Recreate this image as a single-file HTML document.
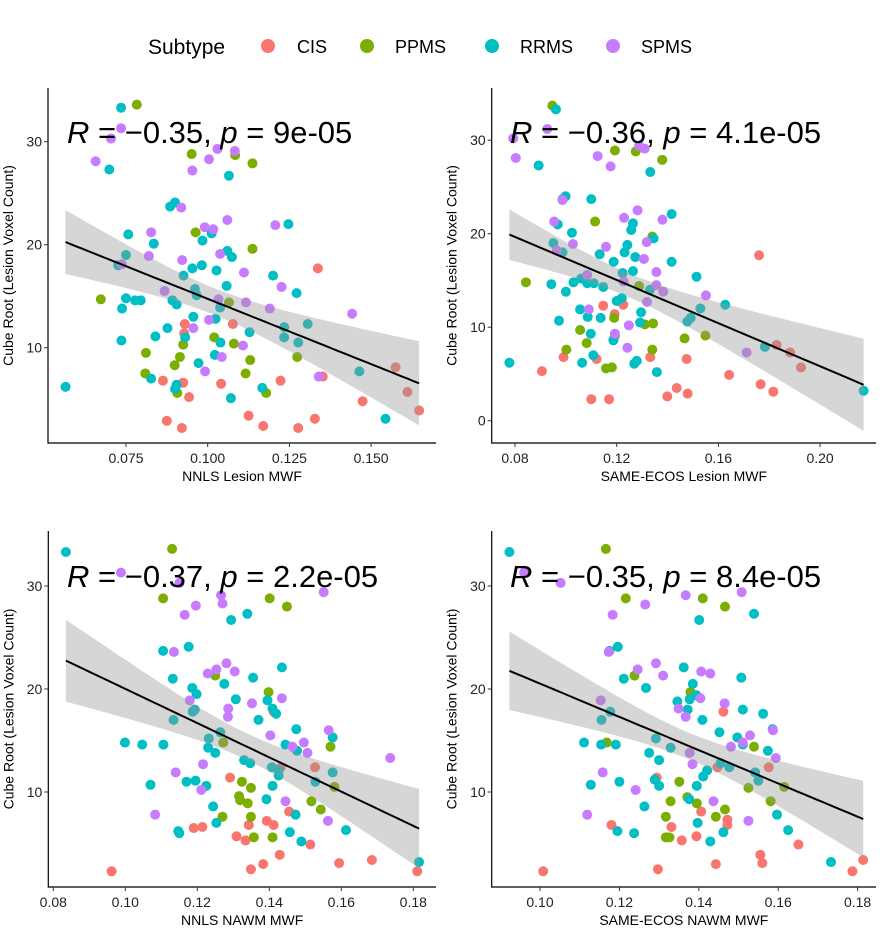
<!DOCTYPE html>
<html><head><meta charset="utf-8"><style>
body{margin:0;background:#fff;}
svg{display:block;font-family:"Liberation Sans",sans-serif;}
</style></head><body>
<svg id="chart" width="887" height="934" viewBox="0 0 887 934" xmlns="http://www.w3.org/2000/svg">
<rect width="887" height="934" fill="#fff"/>
<g>
<text x="148" y="54" font-size="21" fill="#000">Subtype</text>
<circle cx="268" cy="46" r="7" fill="#F8766D"/>
<text x="297" y="53" font-size="18">CIS</text>
<circle cx="367" cy="46" r="7" fill="#7CAE00"/>
<text x="395" y="53" font-size="18">PPMS</text>
<circle cx="492" cy="46" r="7" fill="#00BFC4"/>
<text x="520" y="53" font-size="18">RRMS</text>
<circle cx="613" cy="46" r="7" fill="#C77CFF"/>
<text x="641" y="53" font-size="18">SPMS</text>
</g>
</svg>
<script>
const subtypes=["CIS","PPMS","RRMS","SPMS"];
const colors={CIS:"#F8766D",PPMS:"#7CAE00",RRMS:"#00BFC4",SPMS:"#C77CFF"};
// Panel 1: NNLS Lesion MWF
const p1RRMS=[[0.0735,33.3],[0.0699,27.3],[0.1065,26.7],[0.0885,23.7],[0.090,24.1],[0.1247,22.0],[0.0757,21.0],[0.1012,21.1],[0.0984,20.4],[0.0835,20.1],[0.075,19.0],[0.106,19.4],[0.1074,18.8],[0.0726,18.0],[0.0953,17.7],[0.0982,18.0],[0.1027,17.5],[0.0926,17.0],[0.120,17.0],[0.1058,16.0],[0.0961,15.7],[0.0966,15.1],[0.1272,15.3],[0.075,14.8],[0.0778,14.6],[0.0795,14.6],[0.0892,14.6],[0.0905,14.2],[0.0738,13.8],[0.1038,13.9],[0.0956,13.0],[0.1024,12.8],[0.1306,12.3],[0.0877,11.9],[0.1234,12.0],[0.1128,11.5],[0.0931,11.0],[0.0840,11.1],[0.1234,11.0],[0.1277,10.5],[0.0736,10.7],[0.1039,10.5],[0.1022,9.3],[0.0972,8.5],[0.1464,7.7],[0.0827,7.0],[0.0565,6.2],[0.0905,6.4],[0.090,6.0],[0.1167,6.1],[0.1071,5.1],[0.1544,3.1]];
const p1PPMS=[[0.0783,33.6],[0.0951,28.8],[0.1084,28.7],[0.1137,27.9],[0.0963,21.2],[0.1137,19.6],[0.0673,14.7],[0.1065,14.4],[0.102,11.0],[0.108,10.4],[0.0925,10.3],[0.0811,9.5],[0.1274,9.1],[0.0915,9.1],[0.113,8.8],[0.0899,8.3],[0.0809,7.5],[0.1116,7.5],[0.0907,5.6],[0.1179,5.6]];
const p1SPMS=[[0.0735,31.3],[0.0704,30.3],[0.103,29.3],[0.1083,29.1],[0.0657,28.1],[0.1004,28.3],[0.0953,27.2],[0.0919,23.6],[0.106,22.4],[0.0991,21.7],[0.1017,21.5],[0.1207,21.9],[0.0827,21.2],[0.1038,19.1],[0.0820,18.9],[0.0922,18.5],[0.0737,18.1],[0.1111,17.3],[0.1226,15.9],[0.0868,15.5],[0.1033,14.7],[0.1117,14.4],[0.119,13.8],[0.1442,13.3],[0.1004,12.7],[0.0956,11.9],[0.1108,10.2],[0.1043,9.1],[0.0992,7.7],[0.134,7.2]];
const p1CIS=[[0.1337,17.7],[0.1077,12.3],[0.093,12.3],[0.0928,11.4],[0.0863,6.8],[0.0925,6.6],[0.1041,6.5],[0.1223,6.8],[0.1352,7.2],[0.1575,8.1],[0.1611,5.7],[0.1474,4.8],[0.1647,3.9],[0.0943,5.2],[0.1125,3.4],[0.1328,3.1],[0.0875,2.9],[0.117,2.4],[0.0921,2.2],[0.1277,2.2]];
// Panel 2: SAME-ECOS Lesion MWF
const p2RRMS=[[0.0961,33.3],[0.0893,27.3],[0.1332,26.6],[0.0999,24.0],[0.0987,23.7],[0.110,23.7],[0.1416,22.1],[0.1264,21.1],[0.0968,21.0],[0.1257,20.4],[0.1024,20.1],[0.1345,19.5],[0.0951,19.0],[0.1242,18.8],[0.0987,18.0],[0.1231,18.0],[0.1133,17.8],[0.1273,17.5],[0.1416,17.0],[0.1188,17.0],[0.1264,16.0],[0.1223,15.8],[0.1514,15.4],[0.106,15.2],[0.1030,14.8],[0.0943,14.6],[0.1084,14.7],[0.111,14.7],[0.1147,14.3],[0.1000,13.8],[0.1331,14.0],[0.122,13.1],[0.120,12.8],[0.1627,12.4],[0.1056,11.9],[0.1529,12.0],[0.1296,11.6],[0.1086,11.1],[0.1137,11.0],[0.1491,11.0],[0.1478,10.6],[0.0973,10.7],[0.1292,10.5],[0.1098,9.3],[0.1187,8.6],[0.1783,7.9],[0.1108,7.0],[0.0778,6.2],[0.1064,6.2],[0.1269,6.1],[0.1279,6.4],[0.1358,5.2],[0.2171,3.2]];
const p2PPMS=[[0.0947,33.7],[0.1193,28.9],[0.1275,28.8],[0.1379,27.9],[0.1115,21.3],[0.134,19.7],[0.1288,14.4],[0.0843,14.8],[0.1311,10.3],[0.1343,10.4],[0.119,11.0],[0.1056,9.7],[0.1193,9.1],[0.1467,8.8],[0.1549,9.1],[0.1082,8.3],[0.1002,7.6],[0.134,7.6],[0.1158,5.6],[0.1181,5.7]];
const p2SPMS=[[0.0927,31.2],[0.0793,30.2],[0.0803,28.1],[0.1125,28.3],[0.1288,29.4],[0.131,29.1],[0.1176,27.2],[0.0987,23.6],[0.1282,22.5],[0.1229,21.7],[0.138,21.5],[0.0954,21.3],[0.1318,19.1],[0.1028,18.9],[0.1158,18.6],[0.0964,18.2],[0.1307,17.3],[0.1356,15.9],[0.1084,15.6],[0.1227,14.9],[0.1356,14.5],[0.1383,13.8],[0.1551,13.4],[0.1319,12.7],[0.1090,11.9],[0.1248,10.2],[0.1193,9.3],[0.1242,7.8],[0.1711,7.3]];
const p2CIS=[[0.176,17.7],[0.1226,12.4],[0.1192,11.4],[0.1147,12.3],[0.0991,6.8],[0.1121,6.6],[0.1332,6.8],[0.1475,6.6],[0.1829,8.1],[0.1882,7.3],[0.1925,5.7],[0.1642,4.9],[0.0906,5.3],[0.1766,3.9],[0.1816,3.1],[0.1436,3.5],[0.1479,2.9],[0.1399,2.6],[0.110,2.3],[0.117,2.3]];
// Panel 3: NNLS NAWM MWF
const p3RRMS=[[0.0835,33.3],[0.1294,26.7],[0.1339,27.3],[0.1105,23.7],[0.1176,24.1],[0.1435,22.1],[0.1132,21.0],[0.1355,21.1],[0.1275,20.5],[0.1186,20.1],[0.1198,19.5],[0.1307,19.0],[0.1395,18.9],[0.1409,18.1],[0.1419,17.6],[0.1187,17.8],[0.1193,18.0],[0.1134,17.0],[0.137,17.0],[0.1475,16.1],[0.1264,15.8],[0.1576,15.3],[0.0999,14.8],[0.1047,14.6],[0.1106,14.6],[0.1232,15.2],[0.1445,14.6],[0.123,14.3],[0.1477,14.0],[0.125,13.8],[0.133,13.1],[0.1347,12.8],[0.1407,12.4],[0.1426,12.1],[0.1426,11.6],[0.1576,11.9],[0.117,11.0],[0.1195,11.1],[0.107,10.7],[0.1225,10.6],[0.1409,10.6],[0.1528,11.0],[0.1392,9.3],[0.1244,8.6],[0.1473,7.8],[0.1253,7.0],[0.1147,6.2],[0.115,6.0],[0.1457,6.1],[0.1613,6.3],[0.1489,5.2],[0.1816,3.2]];
const p3PPMS=[[0.113,33.6],[0.1105,28.8],[0.1401,28.8],[0.1449,28.0],[0.125,21.3],[0.1398,19.7],[0.1272,14.8],[0.157,14.4],[0.1324,11.0],[0.1349,10.4],[0.1581,10.5],[0.1316,9.6],[0.1319,9.2],[0.134,8.9],[0.1517,9.1],[0.1543,8.3],[0.127,7.6],[0.1349,7.6],[0.1357,5.6],[0.1409,5.6]];
const p3SPMS=[[0.0988,31.3],[0.115,30.3],[0.1266,29.1],[0.1551,29.4],[0.127,28.3],[0.1196,28.1],[0.1165,27.2],[0.1135,23.6],[0.1281,22.5],[0.1253,21.9],[0.1229,21.5],[0.1304,21.7],[0.1435,19.1],[0.1179,18.9],[0.1352,18.6],[0.1286,18.1],[0.1285,17.3],[0.1403,15.5],[0.1565,16.0],[0.1496,14.8],[0.1464,14.4],[0.1506,13.8],[0.1736,13.3],[0.1216,12.7],[0.114,11.9],[0.1211,10.2],[0.1445,9.1],[0.1083,7.8],[0.1563,7.2]];
const p3CIS=[[0.1412,17.8],[0.1527,12.4],[0.1432,12.4],[0.1291,11.4],[0.1455,8.1],[0.1393,7.2],[0.1412,6.8],[0.1343,6.8],[0.119,6.5],[0.1214,6.6],[0.1309,5.7],[0.1334,5.3],[0.1514,4.9],[0.1429,3.9],[0.1594,3.1],[0.1685,3.4],[0.1383,3.0],[0.1349,2.5],[0.1811,2.3],[0.0962,2.3]];
// Panel 4: SAME-ECOS NAWM MWF
const p4RRMS=[[0.0923,33.3],[0.1401,26.7],[0.1539,27.3],[0.1175,23.7],[0.1196,24.1],[0.1362,22.1],[0.1211,21.0],[0.1507,21.1],[0.1385,20.5],[0.1267,20.1],[0.1394,19.4],[0.1377,19.0],[0.1346,18.8],[0.1372,18.0],[0.1511,18.0],[0.1562,17.6],[0.1177,17.8],[0.1155,17.0],[0.1409,17.0],[0.1452,15.8],[0.1586,16.1],[0.1497,15.3],[0.1292,15.2],[0.1111,14.8],[0.1154,14.6],[0.1191,14.6],[0.1511,14.6],[0.1329,14.3],[0.1574,14.0],[0.1275,13.8],[0.13,13.1],[0.1455,12.8],[0.1477,12.4],[0.1421,12.1],[0.1411,11.5],[0.1542,11.9],[0.155,11.1],[0.12,11.0],[0.1289,11.2],[0.1128,10.7],[0.13,10.6],[0.1395,10.6],[0.1376,9.3],[0.1263,8.6],[0.1597,7.8],[0.1397,7.0],[0.1195,6.2],[0.1237,6.0],[0.1462,6.1],[0.1625,6.3],[0.1429,5.2],[0.1733,3.2]];
const p4PPMS=[[0.1166,33.6],[0.1216,28.8],[0.141,28.8],[0.1466,28.0],[0.1238,21.3],[0.1379,19.7],[0.1168,14.8],[0.1539,14.4],[0.1351,11.0],[0.1525,10.4],[0.1615,10.5],[0.1371,9.5],[0.1329,9.1],[0.1395,8.9],[0.1581,9.1],[0.1466,8.3],[0.1317,7.6],[0.1443,7.6],[0.1317,5.6],[0.1326,5.6]];
const p4SPMS=[[0.096,31.3],[0.1052,30.3],[0.1367,29.1],[0.1508,29.4],[0.1265,28.2],[0.1183,27.2],[0.1173,23.6],[0.1292,22.5],[0.1246,21.9],[0.131,21.3],[0.1406,21.7],[0.1429,21.5],[0.1404,19.1],[0.1349,18.1],[0.1465,18.6],[0.1153,18.9],[0.1367,17.3],[0.1529,15.5],[0.1587,16.0],[0.1511,14.8],[0.1481,14.4],[0.1377,13.8],[0.1594,13.3],[0.1384,12.7],[0.1158,11.9],[0.1241,10.2],[0.1437,9.1],[0.1119,7.8],[0.1525,7.2]];
const p4CIS=[[0.1462,17.8],[0.1576,12.4],[0.1447,12.4],[0.1294,11.4],[0.1406,8.1],[0.1472,7.3],[0.1472,6.8],[0.1331,6.6],[0.118,6.8],[0.1394,5.7],[0.1357,5.3],[0.1651,4.9],[0.1555,3.9],[0.156,3.1],[0.1443,3.0],[0.1814,3.4],[0.1297,2.5],[0.1787,2.3],[0.1008,2.3]];
const xTicks1=[0.075,0.1,0.125,0.15], xLabels1=["0.075","0.100","0.125","0.150"];
const xTicks2=[0.08,0.12,0.16,0.20], xLabels2=["0.08","0.12","0.16","0.20"];
const xTicks3=[0.08,0.10,0.12,0.14,0.16,0.18], xLabels3=["0.08","0.10","0.12","0.14","0.16","0.18"];
const xTicks4=[0.10,0.12,0.14,0.16,0.18], xLabels4=["0.10","0.12","0.14","0.16","0.18"];
const yTicksA=[10,20,30], yTicksB=[0,10,20,30];
const titles=["NNLS Lesion MWF","SAME-ECOS Lesion MWF","NNLS NAWM MWF","SAME-ECOS NAWM MWF"];
const statR=["−0.35","−0.36","−0.37","−0.35"], statP=["9e-05","4.1e-05","2.2e-05","8.4e-05"];

const NS="http://www.w3.org/2000/svg";
const svg=document.getElementById('chart');
function mk(tag,attrs,parent){const e=document.createElementNS(NS,tag);for(const k in attrs)e.setAttribute(k,attrs[k]);(parent||svg).appendChild(e);return e;}

const panels=[
 {data:{CIS:p1CIS,PPMS:p1PPMS,RRMS:p1RRMS,SPMS:p1SPMS},x0:0.1,px0:207.7,xs:81.7/0.025,yp0:450.7,ys:10.3,L:48,R:436,T:88,B:443,xt:xTicks1,xl:xLabels1,yt:yTicksA,tx:67,ty:143},
 {data:{CIS:p2CIS,PPMS:p2PPMS,RRMS:p2RRMS,SPMS:p2SPMS},x0:0.08,px0:515,xs:101.7/0.04,yp0:420.7,ys:9.35,L:491.7,R:876,T:88,B:443,xt:xTicks2,xl:xLabels2,yt:yTicksB,tx:510,ty:143},
 {data:{CIS:p3CIS,PPMS:p3PPMS,RRMS:p3RRMS,SPMS:p3SPMS},x0:0.08,px0:53.3,xs:72/0.02,yp0:895,ys:10.3,L:48.3,R:436,T:531,B:887,xt:xTicks3,xl:xLabels3,yt:yTicksA,tx:67,ty:587},
 {data:{CIS:p4CIS,PPMS:p4PPMS,RRMS:p4RRMS,SPMS:p4SPMS},x0:0.10,px0:540,xs:79.4/0.02,yp0:895,ys:10.3,L:491.7,R:876,T:531,B:887,xt:xTicks4,xl:xLabels4,yt:yTicksA,tx:510,ty:587}
];
panels.forEach((P,i)=>{
 const X=v=>P.px0+(v-P.x0)*P.xs, Y=v=>P.yp0-v*P.ys;
 const g=mk('g',{});
 
 
 const cid='clip'+i;
 const cp=mk('clipPath',{id:cid},g);mk('rect',{x:P.L,y:P.T,width:P.R-P.L,height:P.B-P.T},cp);
 const pts=mk('g',{'clip-path':'url(#'+cid+')'},g);
 
 
 const all=[];
 subtypes.forEach(s=>{P.data[s].forEach(d=>{all.push(d);
   const c=mk('circle',{cx:X(d[0]),cy:Y(d[1]),r:5,fill:colors[s]},pts);
   
   
 });});
 // linear regression with 95% CI
 const n=all.length;let mx=0,my=0;all.forEach(d=>{mx+=d[0];my+=d[1];});mx/=n;my/=n;
 let sxx=0,sxy=0;all.forEach(d=>{sxx+=(d[0]-mx)**2;sxy+=(d[0]-mx)*(d[1]-my);});
 const b=sxy/sxx,a=my-b*mx;let sse=0;all.forEach(d=>{sse+=(d[1]-a-b*d[0])**2;});
 const s=Math.sqrt(sse/(n-2)),t=1.98;
 const xmin=Math.min(...all.map(d=>d[0])),xmax=Math.max(...all.map(d=>d[0]));
 const up=[],lo=[],ln=[];
 for(let k=0;k<=60;k++){const x=xmin+(xmax-xmin)*k/60,yh=a+b*x,hw=t*s*Math.sqrt(1/n+(x-mx)**2/sxx);
   up.push(X(x).toFixed(1)+','+Y(yh+hw).toFixed(1));lo.unshift(X(x).toFixed(1)+','+Y(yh-hw).toFixed(1));ln.push(X(x).toFixed(1)+','+Y(yh).toFixed(1));}
 const band=mk('polygon',{points:up.concat(lo).join(' '),fill:'#999','fill-opacity':0.4,'clip-path':'url(#'+cid+')'},g);
 
 
 const line=mk('polyline',{points:ln.join(' '),fill:'none',stroke:'#000','stroke-width':2,'clip-path':'url(#'+cid+')'},g);
 
 
 // axes
 const ax=mk('path',{d:`M${P.L},${P.T}V${P.B}H${P.R}`,fill:'none',stroke:'#000','stroke-width':1.2},g);
 
 
 P.yt.forEach(v=>{mk('line',{x1:P.L-4,x2:P.L,y1:Y(v),y2:Y(v),stroke:'#333'},g);
   const tl=mk('text',{x:P.L-6,y:Y(v)+5,'font-size':14,'text-anchor':'end',fill:'#222'},g);tl.textContent=v;
   
   });
 P.xt.forEach((v,j)=>{mk('line',{x1:X(v),x2:X(v),y1:P.B,y2:P.B+4,stroke:'#333'},g);
   const tl=mk('text',{x:X(v),y:P.B+20,'font-size':14,'text-anchor':'middle',fill:'#222'},g);tl.textContent=P.xl[j];
   
   });
 const xt=mk('text',{x:(P.L+P.R)/2,y:P.B+38,'font-size':14,'text-anchor':'middle',fill:'#000'},g);xt.textContent=titles[i];
 
 
 const yx=P.L-35,yy=(P.T+P.B)/2;
 const yt=mk('text',{x:yx,y:yy,'font-size':14,'text-anchor':'middle',transform:`rotate(-90 ${yx} ${yy})`},g);yt.textContent='Cube Root (Lesion Voxel Count)';
 
 
 const st=mk('text',{x:P.tx,y:P.ty,'font-size':31,fill:'#000'},g);
 
 
 st.innerHTML=`<tspan font-style="italic">R</tspan> = ${statR[i]}, <tspan font-style="italic">p</tspan> = ${statP[i]}`;
});
</script>
</body></html>
